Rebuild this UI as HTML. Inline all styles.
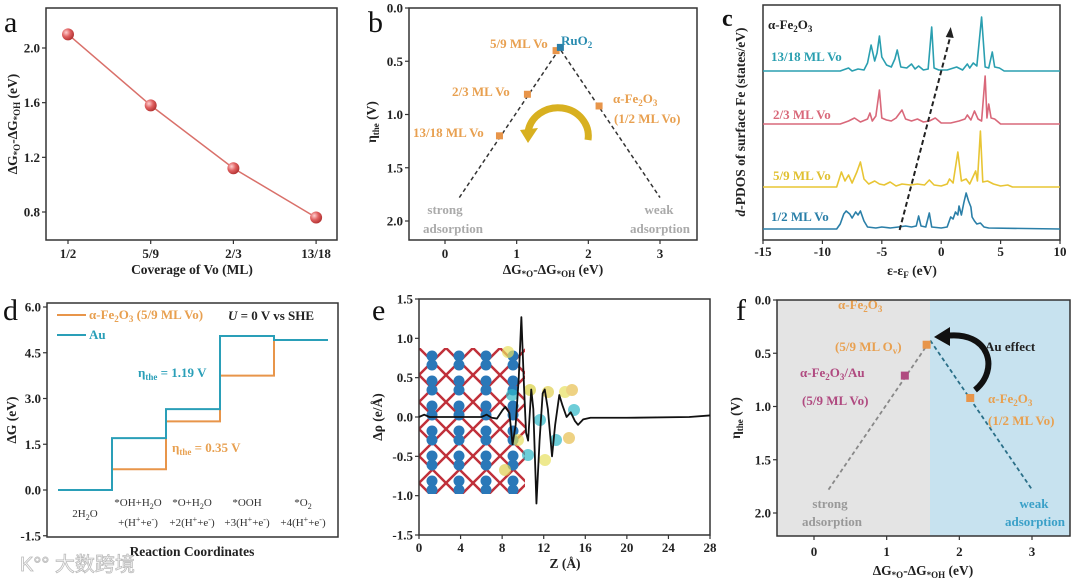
<!DOCTYPE html>
<html><head><meta charset="utf-8"><style>
html,body{margin:0;padding:0;background:#fff;}
svg{display:block;font-family:"Liberation Serif","Noto Serif CJK SC",serif;}
.tk{font-weight:bold;font-size:13px;fill:#222;}
.ttl{font-weight:bold;font-size:13.5px;fill:#222;}
.lab{font-weight:bold;font-size:13px;}
.pl{font-size:30px;fill:#111;}
</style></head><body>
<svg id="fig" width="1080" height="579" viewBox="0 0 1080 579">
<defs>
<radialGradient id="ball" cx="0.35" cy="0.35" r="0.7"><stop offset="0" stop-color="#ffd0d0"/><stop offset="0.5" stop-color="#e06060"/><stop offset="1" stop-color="#b03030"/></radialGradient>
<clipPath id="crys"><rect x="419" y="348" width="106" height="146"/></clipPath>
</defs>
<rect x="777" y="300" width="153" height="236" fill="#e4e4e4"/>
<rect x="930" y="300" width="140" height="236" fill="#c7e2ef"/>
<g id="marks"></g>
<text class="pl" x="4" y="32">a</text>
<text class="pl" x="368" y="32">b</text>
<text class="pl" x="722" y="26" style="font-weight:bold;font-size:24px">c</text>
<text class="pl" x="3" y="320">d</text>
<text class="pl" x="372" y="320">e</text>
<text class="pl" x="736" y="320">f</text>
<text class="ttl" x="192" y="274" text-anchor="middle">Coverage of Vo (ML)</text>
<text class="ttl" transform="translate(17,124) rotate(-90)" text-anchor="middle">ΔG<tspan font-size="9" dy="3">*O</tspan><tspan dy="-3">-ΔG</tspan><tspan font-size="9" dy="3">*OH</tspan><tspan dy="-3"> (eV)</tspan></text>
<text class="ttl" x="553" y="274" text-anchor="middle">ΔG<tspan font-size="9" dy="3">*O</tspan><tspan dy="-3">-ΔG</tspan><tspan font-size="9" dy="3">*OH</tspan><tspan dy="-3"> (eV)</tspan></text>
<text class="ttl" transform="translate(376,122) rotate(-90)" text-anchor="middle" font-size="15">η<tspan font-size="9" dy="3">the</tspan><tspan dy="-3"> (V)</tspan></text>
<text class="lab" x="561" y="45" fill="#2a8cb0">RuO<tspan font-size="9" dy="3">2</tspan></text>
<text class="lab" x="490" y="48" fill="#e8a050">5/9 ML Vo</text>
<text class="lab" x="452" y="96" fill="#e8a050">2/3 ML Vo</text>
<text class="lab" x="413" y="137" fill="#e8a050">13/18 ML Vo</text>
<text class="lab" x="613" y="103" fill="#e8a050">α-Fe<tspan font-size="9" dy="3">2</tspan><tspan dy="-3">O</tspan><tspan font-size="9" dy="3">3</tspan></text>
<text class="lab" x="614" y="123" fill="#e8a050">(1/2 ML Vo)</text>
<text class="lab" x="445" y="214" fill="#aaa" text-anchor="middle">strong</text>
<text class="lab" x="453" y="233" fill="#aaa" text-anchor="middle">adsorption</text>
<text class="lab" x="659" y="214" fill="#aaa" text-anchor="middle">weak</text>
<text class="lab" x="660" y="233" fill="#aaa" text-anchor="middle">adsorption</text>
<path d="M588,140 A30,28 0 0 0 528,132" fill="none" stroke="#d8b020" stroke-width="7"/>
<polygon points="520,130 538,128 528,143" fill="#d8b020"/>
<text class="lab" x="768" y="29" fill="#222">α-Fe<tspan font-size="9" dy="3">2</tspan><tspan dy="-3">O</tspan><tspan font-size="9" dy="3">3</tspan></text>
<text class="lab" x="771" y="61" fill="#2a9fb0">13/18 ML Vo</text>
<text class="lab" x="773" y="119" fill="#d9687a">2/3 ML Vo</text>
<text class="lab" x="773" y="180" fill="#e0c030">5/9 ML Vo</text>
<text class="lab" x="771" y="221" fill="#2a7fa8">1/2 ML Vo</text>
<text class="ttl" x="912" y="275" text-anchor="middle">ε-ε<tspan font-size="9" dy="3">F</tspan><tspan dy="-3"> (eV)</tspan></text>
<text class="ttl" transform="translate(745,122) rotate(-90)" text-anchor="middle"><tspan font-style="italic">d</tspan>-PDOS of surface Fe (states/eV)</text>
<text class="ttl" x="192" y="556" text-anchor="middle">Reaction Coordinates</text>
<text class="ttl" transform="translate(16,420) rotate(-90)" text-anchor="middle">ΔG (eV)</text>
<line x1="57" y1="315" x2="86" y2="315" stroke="#e8954a" stroke-width="2"/>
<text class="lab" x="89" y="319" fill="#e8a050">α-Fe<tspan font-size="9" dy="3">2</tspan><tspan dy="-3">O</tspan><tspan font-size="9" dy="3">3</tspan><tspan dy="-3"> (5/9 ML Vo)</tspan></text>
<line x1="57" y1="335" x2="86" y2="335" stroke="#2a9fb8" stroke-width="2"/>
<text class="lab" x="89" y="339" fill="#2a9fb8">Au</text>
<text class="lab" x="228" y="320" fill="#222" font-size="14"><tspan font-style="italic">U</tspan> = 0 V vs SHE</text>
<text class="lab" x="138" y="377" fill="#2a9fb8" font-size="14">η<tspan font-size="9" dy="3">the</tspan><tspan dy="-3"> = 1.19 V</tspan></text>
<text class="lab" x="172" y="452" fill="#e8a050" font-size="14">η<tspan font-size="9" dy="3">the</tspan><tspan dy="-3"> = 0.35 V</tspan></text>
<g font-size="11" fill="#333" text-anchor="middle">
<text x="85" y="517">2H<tspan font-size="8" dy="3">2</tspan><tspan dy="-3">O</tspan></text>
<text x="138" y="506">*OH+H<tspan font-size="8" dy="3">2</tspan><tspan dy="-3">O</tspan></text>
<text x="138" y="526">+(H<tspan font-size="8" dy="-4">+</tspan><tspan dy="4">+e</tspan><tspan font-size="8" dy="-4">-</tspan><tspan dy="4">)</tspan></text>
<text x="192" y="506">*O+H<tspan font-size="8" dy="3">2</tspan><tspan dy="-3">O</tspan></text>
<text x="192" y="526">+2(H<tspan font-size="8" dy="-4">+</tspan><tspan dy="4">+e</tspan><tspan font-size="8" dy="-4">-</tspan><tspan dy="4">)</tspan></text>
<text x="247" y="506">*OOH</text>
<text x="247" y="526">+3(H<tspan font-size="8" dy="-4">+</tspan><tspan dy="4">+e</tspan><tspan font-size="8" dy="-4">-</tspan><tspan dy="4">)</tspan></text>
<text x="303" y="506">*O<tspan font-size="8" dy="3">2</tspan></text>
<text x="303" y="526">+4(H<tspan font-size="8" dy="-4">+</tspan><tspan dy="4">+e</tspan><tspan font-size="8" dy="-4">-</tspan><tspan dy="4">)</tspan></text>
</g>
<text x="20" y="571" font-family="Liberation Sans,Noto Sans CJK SC,sans-serif" font-size="20" fill="#fff" stroke="#bbb" stroke-width="0.8">K°° 大数跨境</text>
<text class="ttl" x="565" y="568" text-anchor="middle">Z (Å)</text>
<text class="ttl" transform="translate(382,417) rotate(-90)" text-anchor="middle">Δρ (e/Å)</text>
<text class="ttl" x="923" y="575" text-anchor="middle">ΔG<tspan font-size="9" dy="3">*O</tspan><tspan dy="-3">-ΔG</tspan><tspan font-size="9" dy="3">*OH</tspan><tspan dy="-3"> (eV)</tspan></text>
<text class="ttl" transform="translate(740,418) rotate(-90)" text-anchor="middle" font-size="15">η<tspan font-size="9" dy="3">the</tspan><tspan dy="-3"> (V)</tspan></text>
<text class="lab" x="838" y="309" fill="#e8a050">α-Fe<tspan font-size="9" dy="3">2</tspan><tspan dy="-3">O</tspan><tspan font-size="9" dy="3">3</tspan></text>
<text class="lab" x="835" y="351" fill="#e8a050">(5/9 ML O<tspan font-size="9" dy="3">v</tspan><tspan dy="-3">)</tspan></text>
<text class="lab" x="800" y="377" fill="#b04a80">α-Fe<tspan font-size="9" dy="3">2</tspan><tspan dy="-3">O</tspan><tspan font-size="9" dy="3">3</tspan><tspan dy="-3">/Au</tspan></text>
<text class="lab" x="802" y="405" fill="#b04a80">(5/9 ML Vo)</text>
<text class="lab" x="988" y="403" fill="#e8a050">α-Fe<tspan font-size="9" dy="3">2</tspan><tspan dy="-3">O</tspan><tspan font-size="9" dy="3">3</tspan></text>
<text class="lab" x="988" y="425" fill="#e8a050">(1/2 ML Vo)</text>
<text class="lab" x="985" y="351" fill="#222">Au effect</text>
<path d="M975,390 C1000,370 990,330 945,336" fill="none" stroke="#111" stroke-width="6"/>
<polygon points="934,337 950,327 950,346" fill="#111"/>
<text class="lab" x="830" y="508" fill="#999" text-anchor="middle">strong</text>
<text class="lab" x="832" y="526" fill="#999" text-anchor="middle">adsorption</text>
<text class="lab" x="1034" y="508" fill="#3aa0c8" text-anchor="middle">weak</text>
<text class="lab" x="1035" y="526" fill="#3aa0c8" text-anchor="middle">adsorption</text>
</svg>
<script>
const aCategories = ["1/2","5/9","2/3","13/18"];
const aValues = [2.10, 1.58, 1.12, 0.76];
const aYTicks = [0.8, 1.2, 1.6, 2.0];

const bNames = ["5/9 ML Vo","2/3 ML Vo","13/18 ML Vo","α-Fe2O3 (1/2 ML Vo)"];
const bX = [1.55, 1.15, 0.76, 2.15];
const bY = [0.40, 0.81, 1.20, 0.92];
const bRuO2 = [1.61, 0.37];
const volcanoX = [0.2, 1.6, 3.0];
const volcanoY = [1.78, 0.38, 1.78];
const bXTicks = [0, 1, 2, 3];
const bYTicks = [0.0, 0.5, 1.0, 1.5, 2.0];

const cXTicks = [-15, -10, -5, 0, 5, 10];
const cOffsets = [229, 187, 124, 71];
const dos12 = [[-15,0],[-8.8,0],[-8.5,5],[-8.2,15],[-8.0,18],[-7.7,15],[-7.5,11],[-7.2,17],[-7.0,14],[-6.8,18],[-6.5,8],[-6.2,2],[-5.5,1],[-5,2],[-4.3,1],[-3.6,2],[-3,3],[-2.5,2],[-2.1,3],[-1.9,13],[-1.7,3],[-1.3,2],[-1.0,16],[-0.8,2],[0,1],[0.5,2],[0.8,12],[1.0,10],[1.2,17],[1.4,14],[1.5,23],[1.7,14],[1.9,26],[2.1,36],[2.3,28],[2.5,22],[2.6,12],[2.8,8],[3.0,5],[3.3,6],[3.6,2],[4,1],[10,0]];
const dos59 = [[-15,0],[-8.8,0],[-8.4,15],[-8.1,6],[-7.8,12],[-7.5,4],[-7.1,15],[-6.8,25],[-6.5,8],[-6.1,3],[-5.6,6],[-5.2,3],[-4.8,2],[-4.3,5],[-3.8,1],[-3.3,3],[-2.6,2],[-2,3],[-1.4,2],[-1,7],[-0.6,2],[0,1],[0.5,3],[0.7,8],[1.0,4],[1.4,35],[1.7,6],[2.1,8],[2.4,3],[2.9,16],[3.05,6],[3.3,56],[3.5,5],[3.9,6],[4.4,3],[5,1],[5.6,2],[6,0],[10,0]];
const dos23 = [[-15,0],[-8.5,0],[-7.8,3],[-7.3,6],[-6.8,2],[-6.2,5],[-6.0,11],[-5.8,3],[-5.5,8],[-5.2,34],[-5.0,6],[-4.6,4],[-4.2,3],[-3.8,6],[-3.3,14],[-3.0,5],[-2.5,3],[-2.0,5],[-1.5,2],[-1.0,3],[-0.5,6],[0,1],[0.8,1],[1.5,3],[2.0,5],[2.2,9],[2.5,4],[2.8,13],[3.1,5],[3.4,3],[3.7,48],[3.85,6],[4.0,20],[4.2,6],[4.5,5],[5,0],[10,0]];
const dos1318 = [[-15,0],[-8.5,0],[-7.8,3],[-7.5,0],[-7,2],[-6.5,1],[-6.2,8],[-5.9,26],[-5.6,10],[-5.4,18],[-5.2,35],[-5,14],[-4.6,6],[-4.2,4],[-3.9,12],[-3.7,21],[-3.4,4],[-2.9,3],[-2.5,7],[-2.2,2],[-1.9,5],[-1.5,1],[-1.1,2],[-0.8,44],[-0.6,3],[-0.2,1],[0.5,1],[1.3,4],[1.8,1],[2.2,7],[2.4,3],[2.7,8],[3.0,5],[3.4,54],[3.7,4],[4.0,3],[4.3,19],[4.5,4],[4.9,3],[5.3,0],[10,0]];
const cTrendE = [-3.5, 0.8];
const cTrendY = [230, 27];

const dCategories = ["2H2O","*OH","*O","*OOH","*O2"];
const dAu = [0, 1.70, 2.65, 5.05, 4.92];
const dFe = [0, 0.68, 2.25, 3.75, 4.92];
const dYTicks = [-1.5, 0.0, 1.5, 3.0, 4.5, 6.0];

const eZ = [0,0.5,1,2,4,6,6.5,7,7.5,8,8.3,8.7,9.0,9.3,9.6,9.85,10.1,10.3,10.5,10.8,11.0,11.3,11.6,11.9,12.1,12.4,12.8,13.1,13.5,13.8,14.2,14.6,15.0,15.3,15.8,16.5,20,26,28];
const eRho = [0,0.03,0,0,0,0,0.03,-0.01,-0.02,0.08,0.13,0.05,-0.35,-0.1,0.5,1.27,0.4,-0.2,-0.3,0.35,0.1,-1.1,-0.3,0.3,0.35,0.1,-0.5,-0.1,0.28,0.15,0.0,0.06,-0.05,-0.1,-0.03,-0.01,-0.01,0,0.02];
const eXTicks = [0,4,8,12,16,20,24,28];
const eYTicks = [-1.5,-1.0,-0.5,0.0,0.5,1.0,1.5];

const fX = [1.55, 1.25, 2.15];
const fY = [0.42, 0.71, 0.92];
const fColors = ["#e8954a","#b04a80","#e8954a"];

const NS = 'http://www.w3.org/2000/svg';
const G = document.getElementById('marks');
function mk(tag, attrs, parent){ const e=document.createElementNS(NS,tag); for(const k in attrs) e.setAttribute(k,attrs[k]); (parent||G).appendChild(e); return e; }
function lin(d0,d1,r0,r1){ return v => r0 + (v-d0)/(d1-d0)*(r1-r0); }
function frame(x0,y0,x1,y1,name){
  const r = mk('rect',{x:x0,y:y0,width:x1-x0,height:y1-y0,fill:'none',stroke:'#333','stroke-width':1.5});
  
  
}
function xTicks(vals, sx, yb, ly, fmt, name){
  vals.forEach(v => {
    const t = mk('line',{x1:sx(v),x2:sx(v),y1:yb,y2:yb+4,stroke:'#333','stroke-width':1.2});
    
    
    const l = mk('text',{x:sx(v),y:ly,'text-anchor':'middle',class:'tk'});
    l.textContent = fmt(v);
    
    
  });
}
function yTicks(vals, sy, xl, fmt, name){
  vals.forEach(v => {
    const t = mk('line',{x1:xl-4,x2:xl,y1:sy(v),y2:sy(v),stroke:'#333','stroke-width':1.2});
    
    
    const l = mk('text',{x:xl-6,y:sy(v)+4.5,'text-anchor':'end',class:'tk'});
    l.textContent = fmt(v);
    
    
  });
}
const f1 = v => v.toFixed(1);

{
  const sx = i => 68 + i*82.7;
  const sy = lin(2.0, 0.8, 48, 212);
  frame(46,8,337,240,'a-plot-frame');
  xTicks(aCategories.map((c,i)=>i), sx, 240, 258, i=>aCategories[i], 'a-x');
  yTicks(aYTicks, sy, 46, f1, 'a-y');
  const p = mk('polyline',{points:aValues.map((v,i)=>sx(i)+','+sy(v)).join(' '),fill:'none',stroke:'#d9706a','stroke-width':1.5});
  
  
  aValues.forEach((v,i)=>{
    const c = mk('circle',{cx:sx(i),cy:sy(v),r:6,fill:'url(#ball)'});
    
    
  });
}
{
  const sx = lin(0,3,445,660);
  const sy = lin(0,2,8,221);
  frame(409,8,697,240,'b-plot-frame');
  xTicks(bXTicks, sx, 240, 258, v=>String(v), 'b-x');
  yTicks(bYTicks, sy, 409, f1, 'b-y');
  const v = mk('polyline',{points:volcanoX.map((x,i)=>sx(x)+','+sy(volcanoY[i])).join(' '),fill:'none',stroke:'#333','stroke-width':1.5,'stroke-dasharray':'4,3'});
  
  
  bX.forEach((x,i)=>{
    const r = mk('rect',{x:sx(x)-3.5,y:sy(bY[i])-3.5,width:7,height:7,fill:'#e8954a'});
    
    
  });
  const ru = mk('rect',{x:sx(bRuO2[0])-3.5,y:sy(bRuO2[1])-3.5,width:7,height:7,fill:'#2a7fa8'});
  
  
}
{
  const sx = lin(-15,10,763,1060);
  frame(763,5,1060,240,'c-plot-frame');
  xTicks(cXTicks, sx, 240, 256, v=>String(v), 'c-x');
  const series = [[dos12,'#2a7fa8','c-series-1-2'],[dos59,'#e8c534','c-series-5-9'],[dos23,'#d9687a','c-series-2-3'],[dos1318,'#2a9fb0','c-series-13-18']];
  series.forEach((s,k)=>{
    const base = cOffsets[k];
    const p = mk('polyline',{points:s[0].map(d=>sx(d[0])+','+(base-d[1])).join(' '),fill:'none',stroke:s[1],'stroke-width':1.6,'stroke-linejoin':'round'});
    
    
  });
  const a = mk('line',{x1:sx(cTrendE[0]),y1:cTrendY[0],x2:sx(cTrendE[1]),y2:cTrendY[1]+8,stroke:'#222','stroke-width':2,'stroke-dasharray':'5,3'});
  
  
  const hx = sx(cTrendE[1]), hy = cTrendY[1];
  const h = mk('polygon',{points:`${hx},${hy} ${hx-5},${hy+10} ${hx+3},${hy+11}`,fill:'#222'});
  
  
}
{
  const x0 = 58, w = 54;
  const sy = lin(0,6,490,307);
  frame(47,303,338,537,'d-plot-frame');
  yTicks(dYTicks, sy, 47, f1, 'd-y');
  function steps(vals){
    let pts=[];
    vals.forEach((v,i)=>{ pts.push((x0+i*w)+','+sy(v)); pts.push((x0+(i+1)*w)+','+sy(v)); });
    return pts.join(' ');
  }
  const fe = mk('polyline',{points:steps(dFe),fill:'none',stroke:'#e8954a','stroke-width':2});
  
  
  const au = mk('polyline',{points:steps(dAu),fill:'none',stroke:'#2a9fb8','stroke-width':2});
  
  
}
{
  const sx = lin(0,28,419,710);
  const sy = lin(0,1.5,417,299);
  const cg = mk('g',{'clip-path':'url(#crys)'});
  
  
  for(let k=-8;k<10;k++){
    const x = 419 + k*27;
    mk('line',{x1:x,y1:348,x2:x+150,y2:498,stroke:'#c0303a','stroke-width':2.5},cg);
    mk('line',{x1:x,y1:348,x2:x-150,y2:498,stroke:'#c0303a','stroke-width':2.5},cg);
  }
  for(let r=0;r<6;r++){
    for(let c=0;c<4;c++){
      const x = 432 + c*27, y = 360 + r*25;
      mk('circle',{cx:x,cy:y-4,r:5.5,fill:'#2a78b8'},cg);
      mk('circle',{cx:x,cy:y+5,r:5.5,fill:'#2a78b8'},cg);
    }
  }
  const bg = mk('g',{opacity:0.7});
  
  
  const blobs=[[508,352,'#e8e060'],[512,395,'#30b8c8'],[518,440,'#e8e060'],[530,390,'#d8d040'],[540,420,'#30b8c8'],[548,392,'#e0d050'],[556,440,'#30b8c8'],[565,392,'#e8e060'],[574,410,'#30b8c8'],[505,470,'#e0d050'],[569,438,'#e8c050'],[572,390,'#e8c050'],[545,460,'#e8e060'],[528,455,'#30b8c8']];
  blobs.forEach(b=>mk('circle',{cx:b[0],cy:b[1],r:6,fill:b[2]},bg));
  frame(419,299,710,535,'e-plot-frame');
  xTicks(eXTicks, sx, 535, 552, v=>String(v), 'e-x');
  yTicks(eYTicks, sy, 419, f1, 'e-y');
  const p = mk('polyline',{points:eZ.map((z,i)=>sx(z)+','+sy(eRho[i])).join(' '),fill:'none',stroke:'#111','stroke-width':1.8,'stroke-linejoin':'round'});
  
  
}
{
  const sx = lin(0,3,814,1032);
  const sy = lin(0,2,300,513);
  frame(777,300,1070,536,'f-plot-frame');
  xTicks(bXTicks, sx, 536, 556, v=>String(v), 'f-x');
  yTicks(bYTicks, sy, 777, f1, 'f-y');
  const l1 = mk('line',{x1:sx(volcanoX[0]),y1:sy(volcanoY[0]),x2:sx(volcanoX[1]),y2:sy(volcanoY[1]),stroke:'#888','stroke-width':1.8,'stroke-dasharray':'4,3'});
  
  
  const l2 = mk('line',{x1:sx(volcanoX[1]),y1:sy(volcanoY[1]),x2:sx(volcanoX[2]),y2:sy(volcanoY[2]),stroke:'#2a6f88','stroke-width':1.8,'stroke-dasharray':'4,3'});
  
  
  fX.forEach((x,i)=>{
    const r = mk('rect',{x:sx(x)-4,y:sy(fY[i])-4,width:8,height:8,fill:fColors[i]});
    
    
  });
}
</script>
</body></html>
